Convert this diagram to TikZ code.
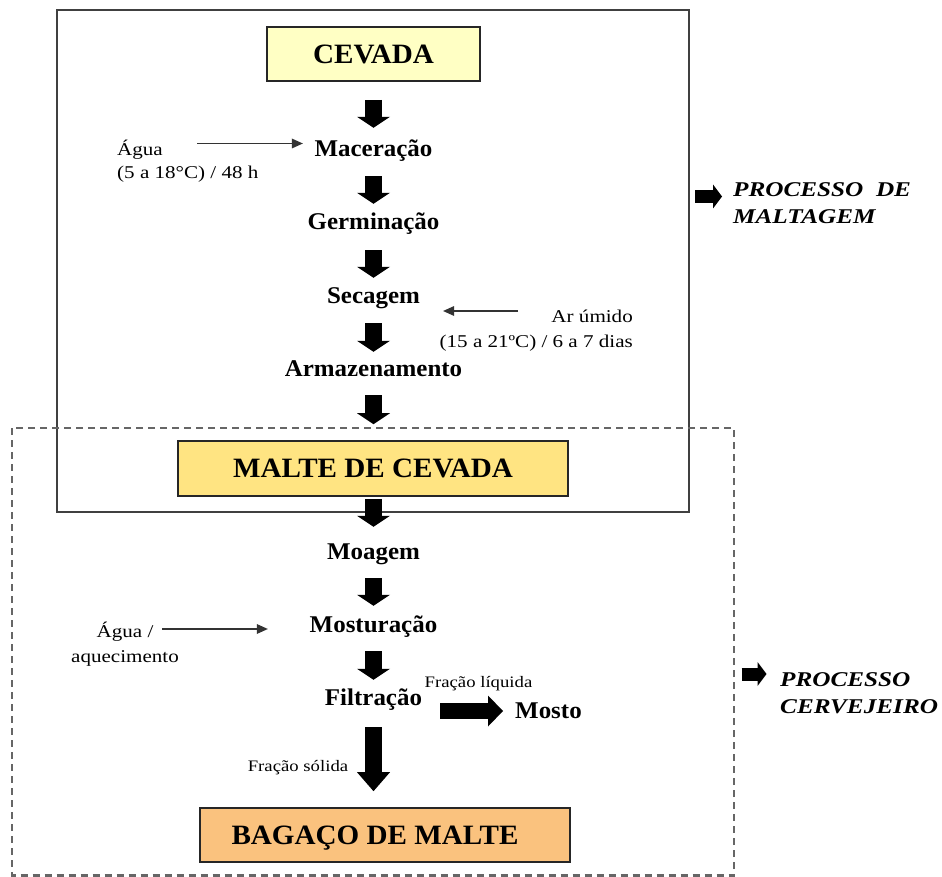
\documentclass[tikz,border=0pt]{standalone}
\usepackage{fontspec}
\setmainfont{Liberation Serif}
\newfontfamily\stepfont[FakeStretch=1.04]{Liberation Serif}
\newfontfamily\notefont[FakeStretch=1.17]{Liberation Serif}
\newfontfamily\procfont[FakeStretch=1.2]{Liberation Serif}
\usetikzlibrary{arrows.meta}
\definecolor{cevadafill}{HTML}{FFFFC4}
\definecolor{maltefill}{HTML}{FFE482}
\definecolor{bagacofill}{HTML}{FAC27E}
\begin{document}
\begin{tikzpicture}[x=1pt,y=-1pt,
  stepnode/.style={font=\stepfont\fontsize{24}{28}\selectfont\bfseries,
    inner sep=0pt, text height=16pt, text depth=5pt, anchor=base},
  titlebox/.style={draw=black!85, line width=1.6pt,
    font=\stepfont\fontsize{28}{32}\selectfont\bfseries,
    inner sep=0pt, text height=18.5pt, text depth=0pt},
  note/.style={font=\notefont\fontsize{18}{22.5}\selectfont, inner sep=0pt},
  smallnote/.style={font=\notefont\fontsize{16}{19}\selectfont, inner sep=0pt, anchor=base},
  proclabel/.style={font=\procfont\fontsize{21}{26.6}\selectfont\bfseries\itshape,
    inner sep=0pt, align=left, anchor=north west},
  flowarrow/.style={line width=17pt, -{Triangle[width=33pt,length=11pt,line width=0pt]}},
  bigflow/.style={line width=17pt, -{Triangle[width=33pt,length=19pt,line width=0pt]}},
  sidearrow/.style={line width=16pt, -{Triangle[width=31pt,length=15pt,line width=0pt]}},
  markarrow/.style={line width=13pt, -{Triangle[width=24pt,length=9pt,line width=0pt]}},
  feed/.style={line width=1.8pt, draw=black!80, -{Triangle[width=10pt,length=11pt,line width=0pt]}},
]
\useasboundingbox (0,0) rectangle (942,877);

% frames of the two process stages
\draw[line width=2pt, draw=black!75] (57,10) rectangle (688.5,512);
\draw[line width=2.2pt, draw=black!60, dash pattern=on 7pt off 5pt] (12,428) rectangle (734,875.5);

% products
\node[titlebox, fill=cevadafill, minimum width=213pt, minimum height=54pt] (cevada) at (373.5,54) {CEVADA};
\node[titlebox, fill=maltefill, minimum width=390pt, minimum height=55pt] (malte) at (373,468.5) {MALTE DE CEVADA};
\node[titlebox, fill=bagacofill, minimum width=370pt, minimum height=54pt] (bagaco) at (385,835) {\kern-20pt BAGAÇO DE MALTE};

% steps
\node[stepnode] (macer) at (373.5,157) {Maceração};
\node[stepnode] (germ) at (373.5,230) {Germinação};
\node[stepnode] (secag) at (373.5,303) {Secagem};
\node[stepnode] (armaz) at (373.5,376) {Armazenamento};
\node[stepnode] (moag) at (373.5,559) {Moagem};
\node[stepnode] (mostur) at (373.5,632) {Mosturação};
\node[stepnode] (filt) at (373.5,705) {Filtração};
\node[stepnode, anchor=base west] (mosto) at (515,718) {Mosto};

% side inputs
\node[note, align=left, anchor=north west] (agua) at (117,140) {Água\\(5 a 18°C) / 48 h};
\node[note, align=right, anchor=north east, font=\notefont\fontsize{18}{25.5}\selectfont] (ar) at (633,309.4) {Ar úmido\\(15 a 21ºC) / 6 a 7 dias};
\node[note, align=center, anchor=north, font=\notefont\fontsize{18}{25}\selectfont] (aquec) at (125,622) {Água /\\aquecimento};
\node[smallnote] (fliq) at (478.5,687) {Fração líquida};
\node[smallnote] (fsol) at (298,771) {Fração sólida};

\coordinate (aguaIn) at (197,143.5);
\coordinate (arIn) at (518,311);
\coordinate (aquecIn) at (162,629);
\draw[feed, shorten >=11.6pt] (aguaIn) -- (aguaIn -| macer.west);
\draw[feed, shorten >=23pt] (arIn) -- (arIn -| secag.east);
\draw[feed, shorten >=41.7pt] (aquecIn) -- (aquecIn -| mostur.west);

% main flow
\draw[flowarrow, shorten <=18pt, shorten >=13pt] (cevada.south) -- (cevada.south |- macer.north);
\draw[flowarrow, shorten <=14pt, shorten >=10pt] (macer.south) -- (germ.north);
\draw[flowarrow, shorten <=15pt, shorten >=9pt] (germ.south) -- (secag.north);
\draw[flowarrow, shorten <=15pt, shorten >=8pt] (secag.south) -- (armaz.north);
\draw[flowarrow, shorten <=14pt, shorten >=16pt] (armaz.south) -- (armaz.south |- malte.north);
\draw[flowarrow, shorten <=2pt, shorten >=16pt] (malte.south -| moag.north) -- (moag.north);
\draw[flowarrow, shorten <=14pt, shorten >=10pt] (moag.south) -- (mostur.north);
\draw[flowarrow, shorten <=14pt, shorten >=9pt] (mostur.south) -- (filt.north);
\draw[bigflow, shorten <=17pt, shorten >=16pt] (filt.south) -- (filt.south |- bagaco.north);
\draw[sidearrow, shorten <=18pt, shorten >=12pt] ([yshift=-11.5pt]filt.east) -- ([yshift=-11.5pt]filt.east -| mosto.west);

% stage labels
\node[proclabel] (maltagem) at (733,182.8) {PROCESSO\ \ DE\\MALTAGEM};
\node[proclabel] (cervej) at (780,672.8) {PROCESSO\\CERVEJEIRO};
\coordinate (mtag) at (695,196.5);
\coordinate (ctag) at (741.5,674);
\draw[markarrow, shorten >=11pt] (mtag) -- (mtag -| maltagem.west);
\draw[markarrow, shorten >=13.5pt] (ctag) -- (ctag -| cervej.west);
\end{tikzpicture}
\end{document}
